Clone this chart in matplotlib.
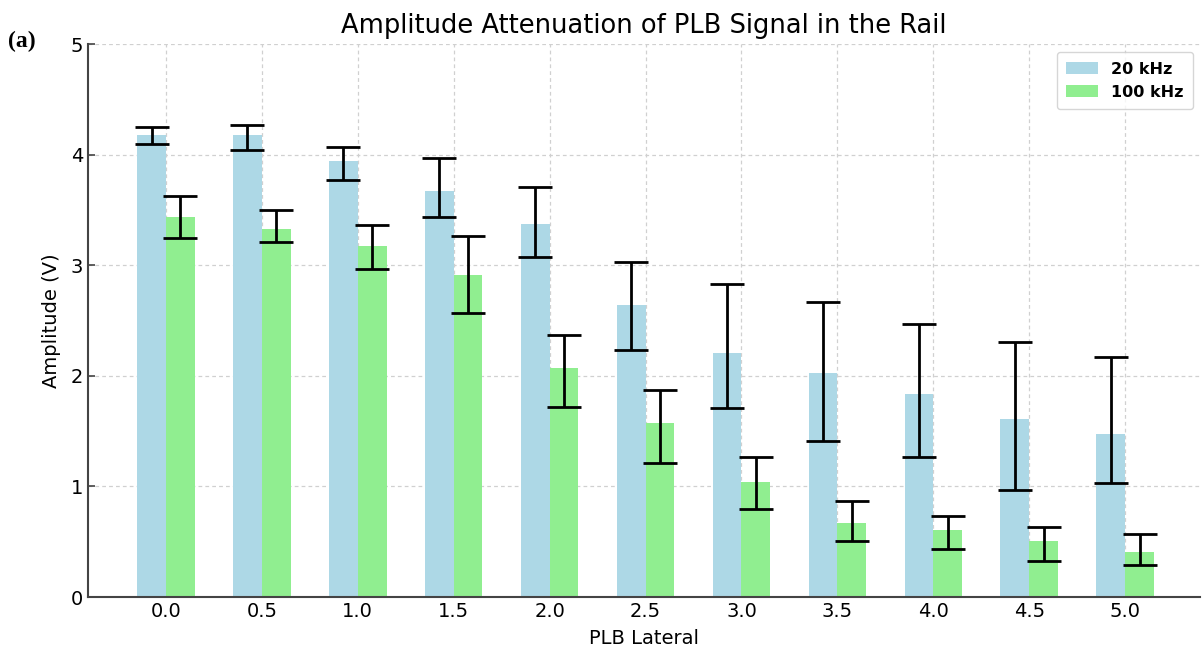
import matplotlib
matplotlib.use("Agg")
import matplotlib.pyplot as plt
import numpy as np

positions = [0.0, 0.5, 1.0, 1.5, 2.0, 2.5, 3.0, 3.5, 4.0, 4.5, 5.0]
tick_labels = ["0.0", "0.5", "1.0", "1.5", "2.0", "2.5", "3.0", "3.5", "4.0", "4.5", "5.0"]

amp_20k = [4.18, 4.18, 3.94, 3.67, 3.37, 2.64, 2.21, 2.03, 1.84, 1.61, 1.47]
lo_20k = [4.10, 4.04, 3.77, 3.44, 3.07, 2.23, 1.71, 1.41, 1.27, 0.97, 1.03]
hi_20k = [4.25, 4.27, 4.07, 3.97, 3.71, 3.03, 2.83, 2.67, 2.47, 2.31, 2.17]

amp_100k = [3.44, 3.33, 3.17, 2.91, 2.07, 1.57, 1.04, 0.67, 0.61, 0.51, 0.41]
lo_100k = [3.25, 3.21, 2.97, 2.57, 1.72, 1.21, 0.80, 0.51, 0.43, 0.33, 0.29]
hi_100k = [3.63, 3.50, 3.36, 3.26, 2.37, 1.87, 1.27, 0.87, 0.73, 0.63, 0.57]

fig = plt.figure(figsize=(12.03, 6.48), dpi=100)
ax = fig.add_axes([0.0732, 0.0787, 0.9243, 0.8533])

x = np.array(positions)
w = 0.15
b20 = np.array(amp_20k)
b100 = np.array(amp_100k)
err20 = [b20 - np.array(lo_20k), np.array(hi_20k) - b20]
err100 = [b100 - np.array(lo_100k), np.array(hi_100k) - b100]

ax.bar(x - w / 2, b20, w, color="#add8e6", label="20 kHz", zorder=2)
ax.bar(x + w / 2, b100, w, color="#90ee90", label="100 kHz", zorder=2)
ax.errorbar(x - w / 2, b20, yerr=err20, fmt="none", ecolor="black", elinewidth=2,
            capsize=12, capthick=2, zorder=3)
ax.errorbar(x + w / 2, b100, yerr=err100, fmt="none", ecolor="black", elinewidth=2,
            capsize=12, capthick=2, zorder=3)

ax.set_xticks(x)
ax.set_xticklabels(tick_labels, fontsize=14)
ax.set_xlim(-0.406, 5.39)
ax.set_ylim(0, 5)
ax.set_yticks([0, 1, 2, 3, 4, 5])
ax.tick_params(axis="y", labelsize=14)
ax.tick_params(direction="in", length=5, width=1.2, color="#444444")
ax.grid(True, linestyle=(0, (3, 2.5)), color="#d0d0d0", linewidth=0.9, zorder=0)
ax.set_axisbelow(True)
for s in ["top", "right"]:
    ax.spines[s].set_visible(False)
for s in ["left", "bottom"]:
    ax.spines[s].set_color("#444444")
    ax.spines[s].set_linewidth(1.5)

ax.set_xlabel("PLB Lateral", fontsize=14, labelpad=6)
ax.set_ylabel("Amplitude (V)", fontsize=14, labelpad=7)
ax.set_title("Amplitude Attenuation of PLB Signal in the Rail", fontsize=18.5, pad=8)

leg = ax.legend(loc="upper right", prop={"weight": "bold", "size": 11.5},
                handlelength=2.0, borderpad=0.6, borderaxespad=0,
                bbox_to_anchor=(0.9937, 0.9855))

fig.text(0.007, 0.927, "(a)", fontsize=17, fontweight="bold", family="Liberation Serif",
         va="baseline")

fig.savefig("out.png", dpi=100)
